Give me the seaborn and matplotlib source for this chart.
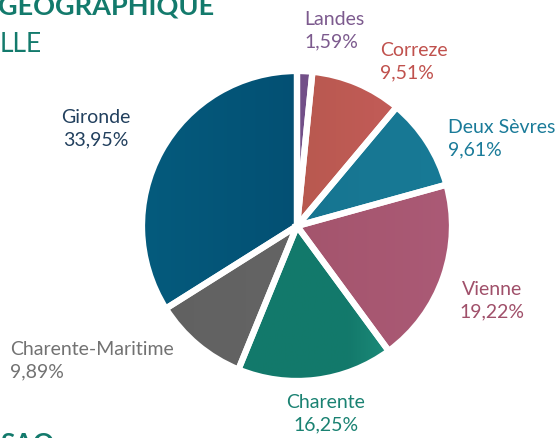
import numpy as np
import matplotlib.pyplot as plt
import matplotlib.patches as mpatches
from matplotlib.colors import LinearSegmentedColormap
import seaborn as sns

# Données
departements = ["Landes", "Correze", "Deux Sèvres", "Vienne", "Charente",
                "Charente-Maritime", "Gironde"]
parts = [1.59, 9.51, 9.61, 19.22, 16.25, 9.89, 33.95]
etiquettes = ["1,59%", "9,51%", "9,61%", "19,22%", "16,25%", "9,89%", "33,95%"]

# couleurs des parts (gauche -> droite) et des textes
degrades = [("#6b4a80", "#7a5590"), ("#b2584f", "#b8594f", "#c85d5d"),
            ("#15708c", "#187a96"), ("#9c4f63", "#ab5a76"),
            ("#127a6b", "#127a6b", "#13796b", "#2ba890"), ("#616161", "#676767"),
            ("#055b7d", "#01456a")]
couleurs_txt = ["#7c5a8e", "#c0514d", "#1a7b99", "#a0506a", "#1a8272", "#727272", "#22405e"]

sns.set_theme(style="white")
plt.rcParams['font.family'] = ['Lato', 'DejaVu Sans']

W, H = 558, 439
fig = plt.figure(figsize=(W / 100, H / 100), dpi=100)
ax = fig.add_axes([0, 0, 1, 1])

cx, cy, r = 297, H - 227, 155
wedges, _ = ax.pie(parts, startangle=90, counterclock=False, center=(cx, cy), radius=r,
                   colors=[d[0] for d in degrades],
                   wedgeprops=dict(edgecolor="white", linewidth=4.5))

# dégradé horizontal dans chaque part
for w, stops in zip(wedges, degrades):
    cmap = LinearSegmentedColormap.from_list("g", list(stops))
    grad = np.linspace(0, 1, 256).reshape(1, -1)
    im = ax.imshow(grad, cmap=cmap, extent=[cx - r, cx + r, cy - r, cy + r],
                   aspect="auto", zorder=1.5)
    im.set_clip_path(w)
    ax.add_patch(mpatches.Wedge(w.center, w.r, w.theta1, w.theta2, fill=False,
                                edgecolor="white", linewidth=4.5, zorder=3))

ax.set_xlim(0, W)
ax.set_ylim(0, H)
ax.axis("off")

# étiquettes
pos = [(304, 11, "left"), (380, 42, "left"), (448, 119, "left"), (492, 281, "center"),
       (326, 394, "center"), (10, 341, "left"), (96, 109, "center")]
for (x, y, ha), nom, lab, c in zip(pos, departements, etiquettes, couleurs_txt):
    ax.text(x, H - y, f"{nom}\n{lab}", ha=ha, va="top", fontsize=14, color=c,
            linespacing=1.4)

# titres coupés
ax.text(-2, H - 14, "GÉOGRAPHIQUE", fontsize=19.5, fontweight="bold", color="#137a6c",
        va="baseline", ha="left")
ax.text(0, H - 52, "LLE", fontsize=19, color="#137a6c", va="baseline", ha="left")
ax.text(0, H - 452, "SAO", fontsize=19, fontweight="bold", color="#137a6c",
        va="baseline", ha="left")

fig.savefig("out.png", dpi=100)
